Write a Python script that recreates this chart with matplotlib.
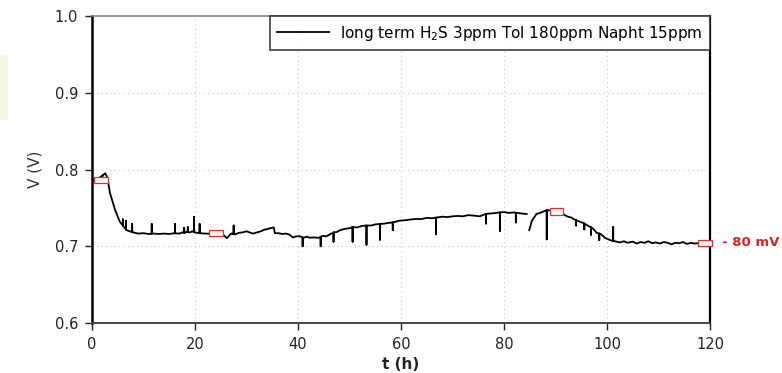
import numpy as np
import matplotlib
matplotlib.use("Agg")
import matplotlib.pyplot as plt
from matplotlib.patches import Rectangle

plt.rcParams['font.family'] = ['DejaVu Sans']

# baseline trace of the cell voltage, NaN = gap in record
t_base = [0, 1.0, 2.2, 2.6, 3.0, 3.5, 4.5, 5.4, 6.7, 8.0, 9, 10, 11, 12, 13, 14, 15,
          16, 17, 17.5, 18, 18.5, 19, 19.5, 20, 20.9, 22, 25.3,
          26.2, 27.0, 27.8, 28.5, 29.2, 30.0, 30.6, 31.3, 32.0, 32.8, 33.4, 33.9, 34.6,
          35.3, 35.5, 36.2, 37.0, 37.7, 38.4, 39.0, 39.7, 40.4, 41.0, 41.8, 42.3, 43.0,
          44.0, 44.8, 45.5, 46.2, 46.9, 47.5, 48.2, 49.0, 50.0, 50.6, 51.5, 52.4, 53.3,
          54.2, 55.0, 55.9, 56.8, 57.6, 58.4, 59.5, 60, 61, 62, 63, 64, 65, 66, 67, 68,
          69, 70, 71, 72, 73, 74, 75.3, 76.4, 77, 78, 79, 80, 81, 82, 83, 84.4,
          np.nan, 84.9, 85.4, 86.3, 87.2, 88.3, 90.0, 91.5, 92.2, 93.0, 93.8, 94.8,
          95.5, 96.5, 97.2, 98.0, 98.8, 99.6, 100.6, 101.5, 102.5, 103.3, 104, 105,
          105.8, 106.5, 107.3, 108, 108.8, 109.5, 110.3, 111, 111.8, 112.5, 113.3, 114,
          114.8, 115.5, 116.3, 117, 117.7, 119.0]
v_base = [0.786, 0.787, 0.793, 0.795, 0.789, 0.769, 0.747, 0.732, 0.721, 0.718, 0.7165,
          0.717, 0.716, 0.7165, 0.716, 0.7165, 0.716, 0.717, 0.7165, 0.718, 0.7175,
          0.719, 0.718, 0.7195, 0.718, 0.717, 0.7165, 0.716,
          0.7105, 0.7165, 0.7155, 0.7175, 0.718, 0.7195, 0.718, 0.7165, 0.718, 0.7195,
          0.7215, 0.722, 0.7235, 0.7245, 0.717, 0.717, 0.716, 0.7165, 0.715, 0.7115,
          0.713, 0.713, 0.711, 0.7125, 0.711, 0.7115, 0.711, 0.7135, 0.713, 0.7155,
          0.718, 0.7185, 0.721, 0.7225, 0.7235, 0.725, 0.7245, 0.7265, 0.727, 0.727,
          0.7285, 0.729, 0.7295, 0.7305, 0.731, 0.733, 0.7335, 0.734, 0.735, 0.7355,
          0.7355, 0.737, 0.7365, 0.7375, 0.7385, 0.738, 0.739, 0.7395, 0.739, 0.7405,
          0.740, 0.739, 0.742, 0.7425, 0.743, 0.744, 0.7445, 0.7435, 0.744, 0.743, 0.742,
          np.nan, 0.721, 0.733, 0.742, 0.744, 0.747, 0.746, 0.742, 0.739, 0.7375, 0.7345,
          0.7317, 0.730, 0.726, 0.7235, 0.7175, 0.716, 0.711, 0.708, 0.7065, 0.705,
          0.7065, 0.7045, 0.706, 0.7035, 0.7055, 0.7045, 0.7065, 0.704, 0.705, 0.7035,
          0.7055, 0.7045, 0.7025, 0.7045, 0.704, 0.7055, 0.703, 0.7045, 0.7035, 0.704,
          0.704]

# narrow spikes: time and tip voltage
t_spike = [2.1, 6.0, 6.6, 7.8, 11.6, 16.1, 17.9, 18.6, 19.8, 20.9, 27.5, 40.9, 44.4,
           46.9, 50.6, 53.3, 55.9, 58.4, 66.8, 76.5, 79.2, 82.3, 84.9, 88.3, 94.0,
           95.6, 96.9, 98.5, 101.2]
v_spike = [0.792, 0.735, 0.733, 0.729, 0.729, 0.729, 0.724, 0.725, 0.738, 0.729, 0.727,
           0.700, 0.700, 0.706, 0.706, 0.702, 0.7085, 0.721, 0.7156, 0.7296, 0.720,
           0.731, 0.716, 0.709, 0.727, 0.722, 0.715, 0.708, 0.725]

# marked points (red boxes)
t_mark = [1.7, 24.0, 90.2, 119.0]
v_mark = [0.786, 0.717, 0.745, 0.7045]

xticks = [0, 20, 40, 60, 80, 100, 120]
yticks = [0.6, 0.7, 0.8, 0.9, 1.0]

# merge spikes into the baseline as vertical excursions
tb = np.array(t_base, dtype=float)
vb = np.array(v_base, dtype=float)
ok = ~np.isnan(tb)
seg_t, seg_v = [], []
for i in range(len(tb)):
    seg_t.append(tb[i]); seg_v.append(vb[i])
    if i + 1 < len(tb) and ok[i] and ok[i + 1]:
        for ts, vs in zip(t_spike, v_spike):
            if tb[i] < ts <= tb[i + 1]:
                base = np.interp(ts, tb[ok], vb[ok])
                seg_t += [ts, ts, ts]; seg_v += [base, vs, base]
order_t = np.array(seg_t); order_v = np.array(seg_v)

fig = plt.figure(figsize=(7.82, 3.73), dpi=100)
fig.patches.append(Rectangle((0, 1 - 120 / 373), 8 / 782, 65 / 373,
                             transform=fig.transFigure, facecolor='#f7f8e1',
                             edgecolor='none'))
ax = fig.add_axes([92 / 782, 50 / 373, 618 / 782, 307 / 373])

ax.plot(order_t, order_v, color='black', lw=1.3,
        label='long term H$_2$S 3ppm Tol 180ppm Napht 15ppm')

for tm, vm in zip(t_mark, v_mark):
    ax.add_patch(Rectangle((tm - 1.35, vm - 0.0042), 2.7, 0.0084, facecolor='#fff4f4',
                           edgecolor='#e03030', lw=0.9, zorder=5, clip_on=False))

ax.set_xlim(0, 120)
ax.set_ylim(0.6, 1.0)
ax.set_xticks(xticks)
ax.set_yticks(yticks)
ax.set_yticklabels([f"{y:.1f}" for y in yticks])
ax.tick_params(direction='out', length=5, width=1, labelsize=10.5, colors='#222222',
               pad=5)
ax.grid(True, color='#c8c8c8', ls=(0, (1, 3)), lw=0.8)

ax.spines['left'].set_linewidth(1.8)
ax.spines['bottom'].set_linewidth(1.4)
ax.spines['bottom'].set_color('#444444')
ax.spines['top'].set_color('#888888')
ax.spines['top'].set_linewidth(1.2)
ax.spines['right'].set_linewidth(1.6)

ax.set_xlabel('t (h)', fontsize=11, fontweight='bold', color='#222222', labelpad=4)
ax.set_ylabel('V (V)', fontsize=11, color='#333333', labelpad=9)

leg = ax.legend(loc='upper right', borderaxespad=0, fancybox=False, fontsize=11,
                handlelength=3.4, borderpad=0.5, handletextpad=0.7)
leg.get_frame().set_edgecolor('#222222')
leg.get_frame().set_linewidth(1.3)

ax.text(1.02, 0.7045, '- 80 mV', transform=ax.get_yaxis_transform(), color='#e02020',
        fontsize=9.5, fontweight='bold', va='center', ha='left')

fig.savefig('out.png', dpi=100)
